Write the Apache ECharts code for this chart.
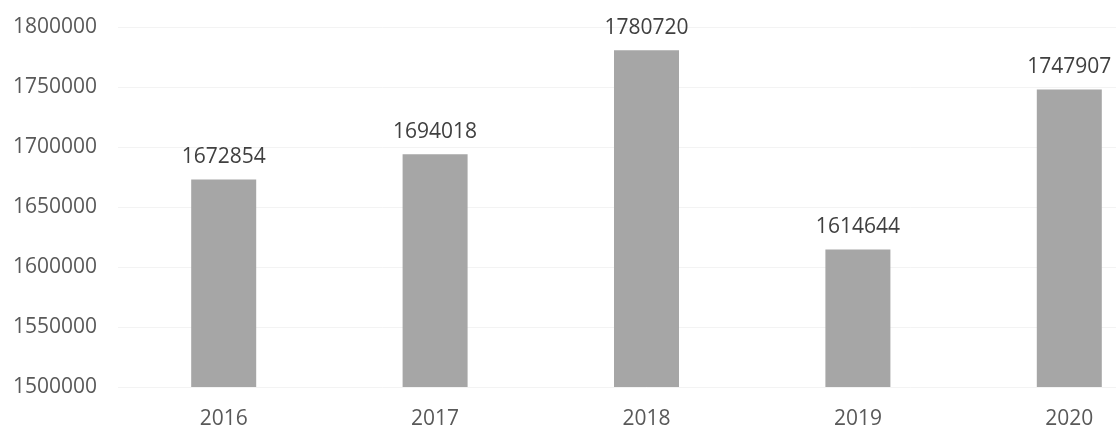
<!DOCTYPE html>
<html>
<head>
<meta charset="utf-8">
<script src="https://cdn.jsdelivr.net/npm/echarts@6/dist/echarts.min.js"></script>
<style>
html,body{margin:0;padding:0;background:#fff;overflow:hidden;width:1116px;height:430px;}
#chart{width:1175px;height:430px;}
</style>
</head>
<body>
<div id="chart"></div>
<script>
const categories = ['2016', '2017', '2018', '2019', '2020'];
const values = [1672854, 1694018, 1780720, 1614644, 1747907];
const yMin = 1500000;
const yMax = 1800000;
const yStep = 50000;

const chart = echarts.init(document.getElementById('chart'));
const textColor = '#595959';
const fontFamily = '"Open Sans", "Liberation Sans", sans-serif';
chart.setOption({
  animation: false,
  backgroundColor: '#ffffff',
  grid: { left: 118, top: 27, right: 0, bottom: 40, containLabel: false },
  xAxis: {
    type: 'category',
    data: categories,
    axisLine: { show: false },
    axisTick: { show: false },
    axisLabel: { color: textColor, fontSize: 21, fontFamily: fontFamily, margin: 22 },
    splitLine: { show: false }
  },
  yAxis: {
    type: 'value',
    min: yMin,
    max: yMax,
    interval: yStep,
    axisLine: { show: false },
    axisTick: { show: false },
    axisLabel: { color: textColor, fontSize: 21, fontFamily: fontFamily, margin: 21, formatter: v => String(v) },
    splitLine: { show: true, lineStyle: { color: '#f3f3f3', width: 1 } }
  },
  series: [{
    type: 'bar',
    data: values,
    barWidth: 65,
    itemStyle: { color: '#a6a6a6' },
    label: {
      show: true,
      position: 'top',
      distance: 12,
      color: '#404040',
      fontSize: 21,
      fontFamily: fontFamily
    }
  }]
});
</script>
</body>
</html>
